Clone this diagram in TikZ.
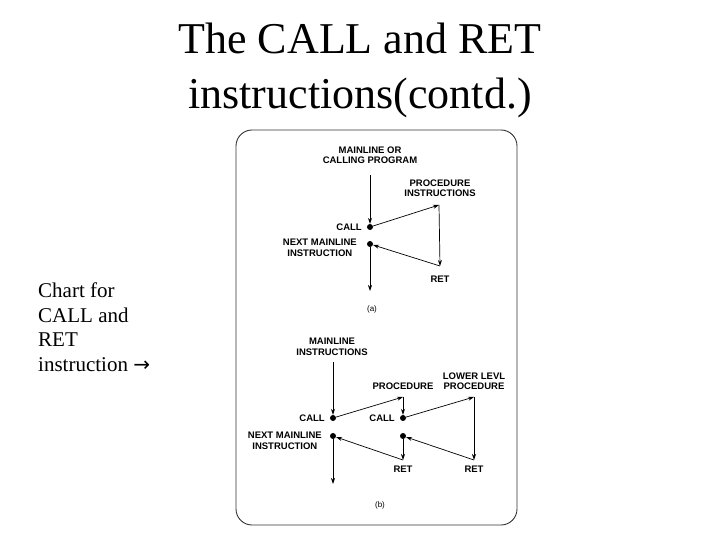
\documentclass[tikz,border=0pt]{standalone}
\usepackage{fontspec}
\setmainfont{Liberation Serif}
\setsansfont{Liberation Sans}
\newfontfamily\symfont{DejaVu Sans}
\usetikzlibrary{arrows.meta}
\begin{document}
\begin{tikzpicture}[x=1pt,y=-1pt,
  lbl/.style={font=\sffamily\bfseries\fontsize{9.5}{10.5}\selectfont,align=center,inner sep=0},
  ar/.style={-{Stealth[length=6pt,width=4pt]},line width=0.7pt},
  dot/.style={circle,fill=black,inner sep=0,minimum size=6pt},
  big/.style={font=\fontsize{44}{55}\selectfont,align=center,inner sep=0},
  side/.style={font=\fontsize{21}{24.5}\selectfont,align=left,anchor=west,inner sep=0}]
\useasboundingbox (0,0) rectangle (720,540);
\node[big] (title) at (360,70) {The CALL and RET\\instructions(contd.)};
\node[side] (side) at (38,327) {Chart for\\CALL and\\RET\\instruction {\symfont\fontsize{20}{24}\selectfont →}};
\draw[line width=0.9pt,rounded corners=16pt,draw=black!80] (236,130) rectangle (517,525);
% (a)
\node[lbl] (m1) at (370,155) {MAINLINE OR\\CALLING PROGRAM};
\node[dot] (c1) at (370,227) {};
\node[dot] (n1) at (370,244) {};
\coordinate (p1) at (439,205);
\coordinate (r1) at (440,266);
\coordinate (e1) at (370,291);
\node[lbl] at (440,188) {PROCEDURE\\INSTRUCTIONS};
\node[lbl,anchor=east] (cl1) at (362,227) {CALL};
\node[lbl,anchor=east] (nl1) at (357,248) {NEXT MAINLINE\\INSTRUCTION};
\node[lbl] (rt1) at (440,279) {RET};
\node[lbl,font=\sffamily\fontsize{8}{9}\selectfont] (a) at (372,309) {(a)};
\draw[ar] (370,175) -- (c1);
\draw[ar] (c1) -- (p1);
\draw[ar] (p1) -- (r1);
\draw[ar] (r1) -- (n1);
\draw[ar] (n1) -- (e1);
% (b)
\node[lbl] (m2) at (332,347) {MAINLINE\\INSTRUCTIONS};
\node[dot] (c2) at (333,418) {};
\node[dot] (n2) at (333,436) {};
\node[dot] (c3) at (403,418) {};
\node[dot] (n3) at (403,436) {};
\coordinate (p2) at (403,397);
\coordinate (p3) at (474,397);
\coordinate (r2) at (403,460);
\coordinate (r3) at (474,460);
\coordinate (e2) at (333,484);
\node[lbl,anchor=east] at (325,418) {CALL};
\node[lbl,anchor=east] at (395,418) {CALL};
\node[lbl,anchor=east] at (322,441) {NEXT MAINLINE\\INSTRUCTION};
\node[lbl] at (403,386) {PROCEDURE};
\node[lbl] at (474,381) {LOWER LEVL\\PROCEDURE};
\node[lbl] at (403,469) {RET};
\node[lbl] at (474,469) {RET};
\node[lbl,font=\sffamily\fontsize{8}{9}\selectfont] (b) at (380,505) {(b)};
\draw[ar] (333,362) -- (c2);
\draw[ar] (c2) -- (p2);
\draw[ar] (p2) -- (c3);
\draw[ar] (c3) -- (p3);
\draw[ar] (p3) -- (r3);
\draw[ar] (r3) -- (n3);
\draw[ar] (n3) -- (r2);
\draw[ar] (r2) -- (n2);
\draw[ar] (n2) -- (e2);
\end{tikzpicture}
\end{document}
